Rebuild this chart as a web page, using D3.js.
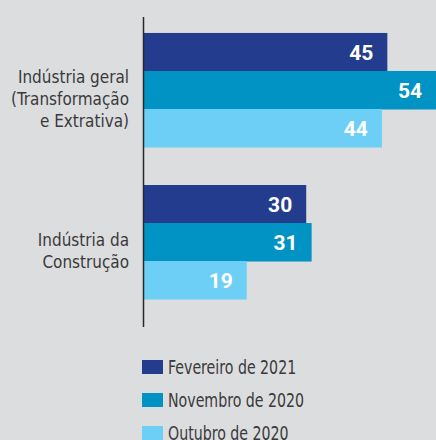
<!DOCTYPE html>
<html><head><meta charset="utf-8">
<script src="https://cdn.jsdelivr.net/npm/d3@7"></script>
<style>
html,body{margin:0;padding:0;background:#dcdddf;}
svg{display:block;}
</style></head>
<body>
<script>
const categories = [["Indústria geral","(Transformação","e Extrativa)"],["Indústria da","Construção"]];
const series = ["Fevereiro de 2021","Novembro de 2020","Outubro de 2020"];
const feb2021 = [45, 30];
const nov2020 = [54, 31];
const out2020 = [44, 19];
const colors = ["#243c8d","#0093c3","#6dcff6"];

const W = 436, H = 440;
const svg = d3.select("body").append("svg").attr("width", W).attr("height", H);
svg.append("rect").attr("width", W).attr("height", H).attr("fill", "#dcdddf");

const values = [feb2021, nov2020, out2020];
const keys = categories.map((c,i)=>i);
const y0 = d3.scaleBand().domain(keys).range([17, 315]).paddingInner(0.25).paddingOuter(0.105);
const y1 = d3.scaleBand().domain(d3.range(series.length)).range([0, y0.bandwidth()]);
const x = d3.scaleLinear().domain([0, 54]).range([144, 436]);

const labelFont = "'Liberation Sans Narrow','DejaVu Sans Condensed',Roboto,sans-serif";

const g = svg.append("g");
keys.forEach(ci => {
  series.forEach((s, si) => {
    const v = values[si][ci];
    const yy = y0(ci) + y1(si);
    g.append("rect").attr("x", x(0)).attr("y", yy).attr("width", x(v) - x(0)).attr("height", y1.bandwidth() + 0.5).attr("fill", colors[si]);
    g.append("text").attr("x", x(v) - 14).attr("y", yy + y1.bandwidth()/2 + 8)
      .attr("text-anchor","end").attr("fill","#fff").attr("font-family","Roboto,sans-serif")
      .attr("font-weight","bold").attr("font-size",21).text(v);
  });
  const lines = categories[ci];
  const cy = y0(ci) + y0.bandwidth()/2;
  const lh = 21.8;
  const t = g.append("text").attr("text-anchor","end").attr("fill","#3a3a3a")
    .attr("font-family", labelFont).attr("font-size",17.5)
    .attr("transform", "translate(129,0) scale(0.97,1)");
  lines.forEach((ln, li) => {
    t.append("tspan").attr("x", 0).attr("y", cy + (li - (lines.length-1)/2)*lh + 15).text(ln);
  });
});

// axis line
svg.append("line").attr("x1",143.5).attr("x2",143.5).attr("y1",17).attr("y2",327).attr("stroke","#2a2a2a").attr("stroke-width",1.5);

// legend
const leg = svg.append("g");
series.forEach((s, si) => {
  const ly = 360 + si*33;
  leg.append("rect").attr("x",142).attr("y",ly).attr("width",21).attr("height",14).attr("fill",colors[si]);
  leg.append("text").attr("transform", `translate(168,${ly+14}) scale(0.83,1)`).attr("fill","#3a3a3a")
    .attr("font-family", labelFont).attr("font-size",19).text(s);
});
</script>
</body></html>
